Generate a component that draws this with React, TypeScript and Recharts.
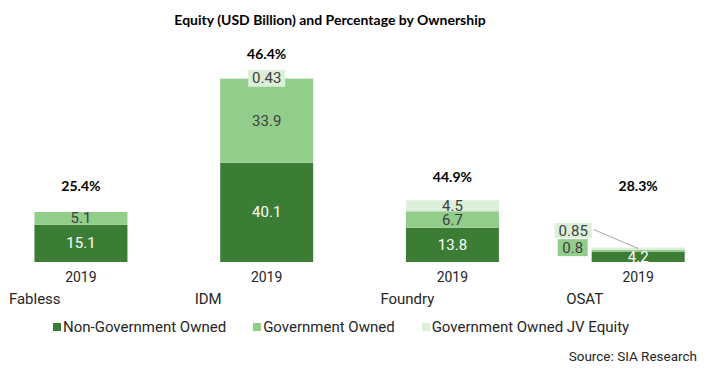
import React from "react";
import { BarChart, Bar, XAxis, YAxis, LabelList, Legend } from "recharts";

// Ownership groups and their year row
const groups = ["Fabless", "IDM", "Foundry", "OSAT"];
const years = ["2019", "2019", "2019", "2019"];

// Equity, USD billion
const nonGovOwned = [15.1, 40.1, 13.8, 4.2];
const govOwned = [5.1, 33.9, 6.7, 0.8];
const govJvEquity = [0, 0.43, 4.5, 0.85];

// Government share shown above each stack
const govShare = ["25.4%", "46.4%", "44.9%", "28.3%"];

const seriesNames = ["Non-Government Owned", "Government Owned", "Government Owned JV Equity"];

const DARK = "#3b7d35";
const MID = "#93cd8c";
const PALE = "#dcefd8";
const TEXT = "#262626";
const LABEL_FONT = "Roboto, sans-serif";
const TITLE_FONT = "Lato, sans-serif";

// stacks smaller than this get their upper labels pulled out to the left
const SMALL_TOTAL = 10;

const data = groups.map((group, i) => ({
  group,
  nonGov: nonGovOwned[i],
  gov: govOwned[i],
  jv: govJvEquity[i],
  total: nonGovOwned[i] + govOwned[i] + govJvEquity[i],
}));

const getBox = (props: any) => {
  const vb = props.viewBox && props.viewBox.width !== undefined ? props.viewBox : props;
  return { x: +vb.x, y: +vb.y, width: +vb.width, height: +vb.height };
};

// zero-height bars get skipped by LabelList, so find the row from the value
const rowOf = (series: number[], props: any) => {
  const i = series.indexOf(Number(props.value));
  return i >= 0 ? i : props.index;
};

const NonGovLabel = (props: any) => {
  const { x, y, width, height } = getBox(props);
  const i = rowOf(nonGovOwned, props);
  const value = nonGovOwned[i];
  const cx = x + width / 2;
  const base = y + height;
  const pxPerUnit = height / value;
  const top = base - data[i].total * pxPerUnit;
  const pctY = Math.min(top - 24, base - 77);
  return (
    <g>
      <text
        x={cx}
        y={y + height / 2}
        fill="#fff"
        textAnchor="middle"
        dominantBaseline="central"
        fontSize={15}
        fontFamily={LABEL_FONT}
      >
        {value}
      </text>
      <text
        x={cx}
        y={pctY}
        fill="#000"
        textAnchor="middle"
        dominantBaseline="central"
        fontSize={14}
        fontWeight="bold"
        fontFamily={TITLE_FONT}
      >
        {govShare[i]}
      </text>
    </g>
  );
};

const GovLabel = (props: any) => {
  const { x, y, width, height } = getBox(props);
  const i = rowOf(govOwned, props);
  const value = govOwned[i];
  if (data[i].total < SMALL_TOTAL) {
    const cy = y + height / 2 - 3;
    return (
      <g>
        <rect x={x - 34} y={cy - 8.5} width={30} height={17} fill={MID} />
        <text
          x={x - 19}
          y={cy}
          fill="#404040"
          textAnchor="middle"
          dominantBaseline="central"
          fontSize={15}
          fontFamily={LABEL_FONT}
        >
          {value}
        </text>
      </g>
    );
  }
  return (
    <text
      x={x + width / 2}
      y={y + height / 2}
      fill="#404040"
      textAnchor="middle"
      dominantBaseline="central"
      fontSize={15}
      fontFamily={LABEL_FONT}
    >
      {value}
    </text>
  );
};

const JvLabel = (props: any) => {
  const { x, y, width, height } = getBox(props);
  const i = rowOf(govJvEquity, props);
  const value = govJvEquity[i];
  if (!value) return null;
  const cx = x + width / 2;
  if (data[i].total < SMALL_TOTAL) {
    const cy = y - 17;
    return (
      <g>
        <line x1={x + 2} y1={cy - 1} x2={cx} y2={y + 1} stroke="#a6a6a6" strokeWidth={1} />
        <rect x={x - 37} y={cy - 7.5} width={37} height={15} fill={PALE} />
        <text
          x={x - 18.5}
          y={cy}
          fill="#404040"
          textAnchor="middle"
          dominantBaseline="central"
          fontSize={15}
          fontFamily={LABEL_FONT}
        >
          {value}
        </text>
      </g>
    );
  }
  const cy = y + height / 2;
  return (
    <g>
      {height < 6 && <rect x={cx - 18.5} y={cy - 8.5} width={37} height={17} fill={PALE} />}
      <text
        x={cx}
        y={cy}
        fill="#404040"
        textAnchor="middle"
        dominantBaseline="central"
        fontSize={15}
        fontFamily={LABEL_FONT}
      >
        {value}
      </text>
    </g>
  );
};

const CategoryTick = (props: any) => {
  const { x, y, payload } = props;
  const i = groups.indexOf(payload.value);
  return (
    <g>
      <text x={x} y={y + 12} textAnchor="middle" fontSize={14} fill={TEXT} fontFamily={LABEL_FONT}>
        {years[i]}
      </text>
      <text x={x - 72} y={y + 34} textAnchor="start" fontSize={15} fill={TEXT} fontFamily={LABEL_FONT}>
        {payload.value}
      </text>
    </g>
  );
};

const renderLegend = (props: any) => {
  const items = [...(props.payload || [])].sort(
    (a: any, b: any) => seriesNames.indexOf(a.value) - seriesNames.indexOf(b.value)
  );
  return (
    <div
      style={{
        display: "flex",
        alignItems: "center",
        height: 20,
        paddingLeft: 53,
        fontFamily: LABEL_FONT,
        fontSize: 15,
        color: TEXT,
      }}
    >
      {items.map((entry: any) => (
        <div key={entry.value} style={{ display: "flex", alignItems: "center", marginRight: 27 }}>
          <span style={{ width: 8, height: 8, background: entry.color, marginRight: 2 }} />
          {entry.value}
        </div>
      ))}
    </div>
  );
};

export default function App() {
  return (
    <div
      style={{
        position: "absolute",
        left: 0,
        top: 0,
        width: 706,
        height: 376,
        background: "#fff",
      }}
    >
      <div
        style={{
          position: "absolute",
          top: 11,
          left: 0,
          width: 660,
          textAlign: "center",
          fontFamily: TITLE_FONT,
          fontWeight: "bold",
          fontSize: 14,
          lineHeight: "18px",
          color: "#000",
        }}
      >
        Equity (USD Billion) and Percentage by Ownership
      </div>
      <BarChart
        width={706}
        height={376}
        data={data}
        margin={{ top: 64, right: 0, bottom: 39, left: 0 }}
        barCategoryGap="25%"
      >
        <XAxis
          dataKey="group"
          axisLine={false}
          tickLine={false}
          height={55}
          interval={0}
          padding={{ left: -12, right: -25 }}
          tick={<CategoryTick />}
        />
        <YAxis hide domain={[0, 80]} />
        <Legend verticalAlign="bottom" content={renderLegend} />
        <Bar dataKey="nonGov" name={seriesNames[0]} stackId="a" fill={DARK} isAnimationActive={false}>
          <LabelList dataKey="nonGov" content={<NonGovLabel />} />
        </Bar>
        <Bar dataKey="gov" name={seriesNames[1]} stackId="a" fill={MID} isAnimationActive={false}>
          <LabelList dataKey="gov" content={<GovLabel />} />
        </Bar>
        <Bar dataKey="jv" name={seriesNames[2]} stackId="a" fill={PALE} isAnimationActive={false}>
          <LabelList dataKey="jv" content={<JvLabel />} />
        </Bar>
      </BarChart>
      <div
        style={{
          position: "absolute",
          top: 347,
          right: 9,
          fontFamily: LABEL_FONT,
          fontSize: 13.5,
          lineHeight: "18px",
          color: TEXT,
        }}
      >
        Source: SIA Research
      </div>
    </div>
  );
}
